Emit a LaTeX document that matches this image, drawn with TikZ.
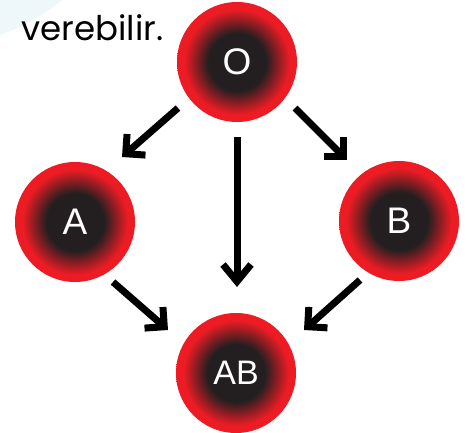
\documentclass[tikz,border=0pt]{standalone}
\usepackage{fontspec}
\setmainfont{Liberation Sans}
\newfontfamily\handfont{Poppins}
\usetikzlibrary{arrows.meta}
\definecolor{bloodred}{HTML}{ED1C24}
\definecolor{coreblack}{HTML}{231F20}
\definecolor{paleblue}{HTML}{EEF7FA}
% red cell: dark core fading out to a bright red rim (rim of the circle = 25bp)
\pgfdeclareradialshading{cellshade}{\pgfpoint{0bp}{0bp}}{%
  color(0bp)=(coreblack); color(12bp)=(coreblack);
  color(22bp)=(bloodred); color(50bp)=(bloodred)}
\tikzset{
  cell/.style={circle, minimum size=120pt, inner sep=0pt, outer sep=0pt,
    shading=cellshade, text=white, font=\fontsize{37}{37}\selectfont},
  arr/.style={line width=7pt, -{Straight Barb[length=14pt,width=28pt]}},
  arrv/.style={line width=7pt, -{Straight Barb[length=17pt,width=28pt]}},
  note/.style={anchor=base west, font=\handfont\fontsize{34}{34}\selectfont},
}
\begin{document}
\begin{tikzpicture}[x=1pt,y=-1pt]
\useasboundingbox (0,0) rectangle (469,432);
\fill[white] (0,0) rectangle (469,432);
\fill[paleblue] (0,0) -- (62,0) .. controls (40,18) and (20,28) .. (0,35) -- cycle;

\node[note] (txt) at (18,40) {verebilir.};

\node[cell] (O)  at (237,62)  {O};
\node[cell] (A)  at (75,222)  {A};
\node[cell] (B)  at (399,221) {B};
\node[cell, font=\fontsize{34}{34}\selectfont] (AB) at (236,373) {AB};

\draw[arr]  ([shift={(-59,46)}]O.center) -- ([shift={(47,-65)}]A.center);
\draw[arrv] ([shift={(0,75)}]O.center)   -- ([shift={(1,-86)}]AB.center);
\draw[arr]  ([shift={(58,46)}]O.center)  -- ([shift={(-52,-61)}]B.center);
\draw[arr]  ([shift={(38,60)}]A.center)  -- ([shift={(-68,-43)}]AB.center);
\draw[arr]  ([shift={(-39,59)}]B.center) -- ([shift={(68,-43)}]AB.center);
\end{tikzpicture}
\end{document}
